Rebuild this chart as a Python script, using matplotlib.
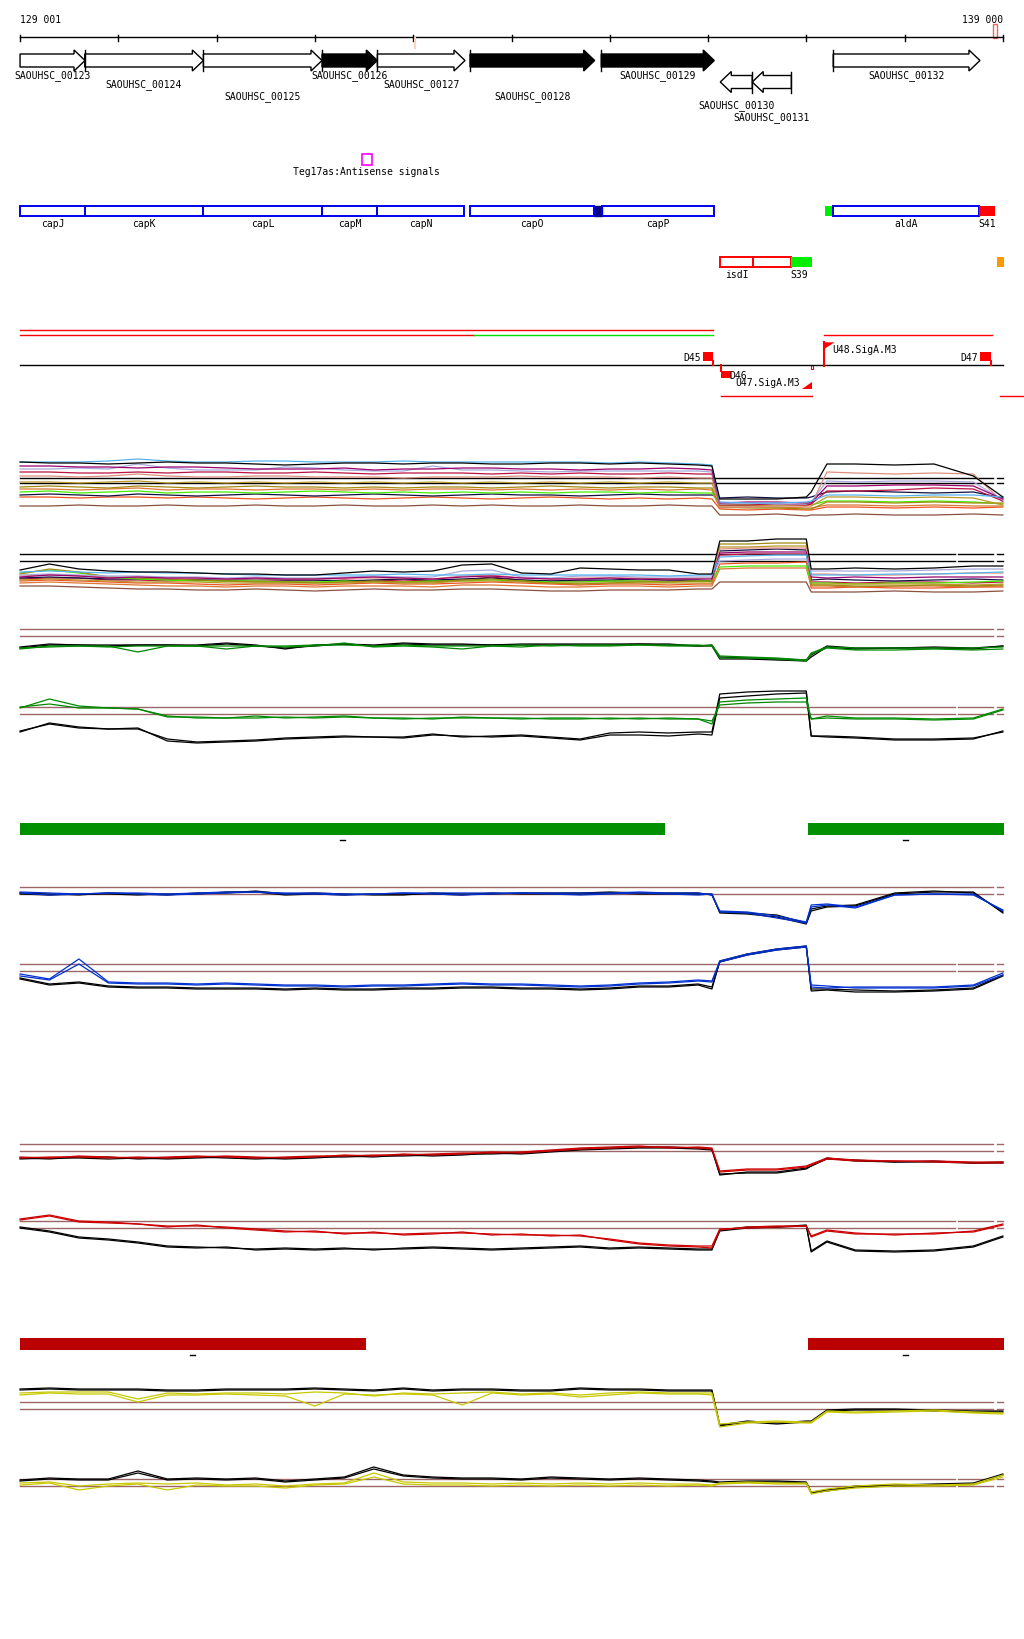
import matplotlib
matplotlib.use('Agg')
import matplotlib.pyplot as plt
from matplotlib.patches import Polygon, Rectangle

# genome window in bp (129 001 .. 139 000 plus margins)
view_start = 128797
view_end = 139215
mono = 'DejaVu Sans Mono'

# genes: name, start, end, strand, filled
gene_names = ['SAOUHSC_00123', 'SAOUHSC_00124', 'SAOUHSC_00125', 'SAOUHSC_00126', 'SAOUHSC_00127',
              'SAOUHSC_00128', 'SAOUHSC_00129', 'SAOUHSC_00130', 'SAOUHSC_00131', 'SAOUHSC_00132']
gene_start = [129001, 129659, 130866, 132073, 132636, 133579, 134914, 136125, 136450, 137274]
gene_end = [129662, 130866, 132073, 132636, 133528, 134847, 136064, 136450, 136848, 138767]
gene_strand = ['+', '+', '+', '+', '+', '+', '+', '-', '-', '+']
gene_filled = [False, False, False, True, False, True, True, False, False, False]
gene_label_row = [76, 85, 97, 76, 85, 97, 76, 106, 118, 76]

# annotated features
cap_names = ['capJ', 'capK', 'capL', 'capM', 'capN', 'capO', 'capP', 'aldA']
cap_start = [129001, 129665, 130866, 132073, 132636, 133579, 134918, 137271]
cap_end = [129665, 130866, 132073, 132636, 133520, 134840, 136064, 138757]

# tiling positions (bp) for the expression profiles
xs = [129001, 129300, 129600, 129900, 130200, 130500, 130800, 131100, 131400, 131700,
      132000, 132300, 132600, 132900, 133200, 133500, 133800, 134100, 134400, 134700,
      135000, 135300, 135600, 135900, 136040, 136120, 136400, 136700, 137000, 137050,
      137210, 137500, 137900, 138300, 138700, 139000]

# condition profiles, + strand
a_black = [57,56,56,55,56, 57,56,56,55,54, 55,56,56,55,56, 56,55,55,56,56, 55,56,55,54,53, 20,20,20,22,27, 55,55,54,55,43,22]
a_sky = [57,57,57,58,60, 58,57,57,58,58, 57,57,57,58,57, 57,57,57,57,57, 56,57,56,55,54, 17,16,16,17,18, 24,24,23,24,24,22]
a_purple = [53,53,52,52,51, 52,52,51,50,50, 50,51,49,50,50, 51,51,50,50,49, 50,50,51,50,49, 16,17,17,16,16, 33,33,34,34,33,20]
a_lav = [50,50,51,50,55, 51,49,49,49,52, 51,49,48,48,53, 49,49,48,47,48, 48,48,48,48,47, 15,16,15,15,17, 38,37,38,38,37,19]
a_crimson = [47,47,46,46,47, 46,47,47,46,46, 47,46,45,46,46, 46,45,46,45,46, 45,45,46,45,45, 14,14,15,14,15, 28,28,29,31,30,18]
a_rosy = [43,43,42,43,45, 43,42,42,43,43, 42,42,42,41,42, 42,42,43,42,42, 42,41,42,41,41, 12,12,13,13,14, 47,46,45,46,45,17]
a_gold = [37,37,36,37,38, 36,37,36,37,36, 37,36,37,36,37, 36,37,36,37,36, 37,36,37,36,36, 13,13,14,13,13, 22,22,21,22,21,14]
a_olive = [32,33,32,31,33, 32,31,32,33,32, 32,31,32,31,32, 32,31,32,33,32, 31,32,32,31,31, 12,11,11,10,10, 17,17,16,17,16,16]
a_orange = [30,30,29,30,31, 29,30,30,29,30, 30,29,30,29,30, 30,29,30,29,30, 29,30,29,30,29, 11,12,12,11,11, 14,14,13,14,13,13]
a_lime = [27,28,26,27,28, 26,27,27,26,27, 28,27,26,27,26, 27,26,27,26,27, 27,26,27,26,26, 14,14,13,14,14, 18,18,17,18,17,15]
a_navy = [24,25,24,23,25, 24,23,24,25,24, 23,24,25,24,23, 24,25,24,24,23, 24,25,24,24,24, 21,22,21,21,22, 27,28,27,26,27,21]
a_ored = [22,22,21,22,22, 21,22,21,20,21, 22,21,20,21,22, 21,20,21,22,21, 20,21,20,21,20, 10,9,10,9,9, 12,12,11,12,11,12]
a_brown = [13,13,14,13,13, 14,13,13,14,13, 13,14,13,13,14, 13,14,13,13,14, 13,13,14,13,13, 4,4,5,3,4, 4,5,4,4,5,4]

# condition profiles, - strand
b_black = [29,35,30,28,27, 27,26,25,25,24, 24,26,28,27,28, 34,35,26,25,31, 30,29,29,25,25, 58,58,60,60, 30,30,31,30,31,33,33]
b_sky = [27,28,27,26,27, 26,26,25,24,24, 24,24,24,25,24, 24,25,24,24,24, 24,24,23,24,24, 42,43,44,44, 24,24,24,25,25,26,27]
b_purple = [22,24,23,21,22, 21,21,20,21,20, 20,21,22,21,20, 22,23,21,20,20, 21,20,20,20,20, 46,47,47,47, 22,21,22,21,22,22,22]
b_lav = [24,25,24,23,23, 22,22,21,22,21, 21,22,23,22,22, 28,29,22,21,23, 23,22,22,22,22, 38,39,40,40, 28,28,28,28,29,30,30]
b_rosy = [23,24,23,22,22, 21,21,20,20,20, 20,21,21,21,20, 23,24,21,20,21, 21,21,20,21,21, 50,51,51,51, 25,25,24,24,25,26,26]
b_olive = [25,30,27,22,21, 20,19,18,17,17, 16,17,18,17,17, 19,20,18,16,15, 16,17,17,18,18, 55,55,56,56, 14,14,13,13,14,13,14]
b_gold = [19,20,19,18,17, 17,17,16,16,16, 16,16,17,16,16, 18,18,17,16,16, 16,16,16,16,16, 52,52,53,53, 15,15,15,15,15,14,15]
b_lime = [26,29,26,22,20, 19,18,18,18,17, 17,18,17,17,18, 18,19,18,17,17, 18,18,17,18,18, 32,33,33,33, 16,16,15,16,16,17,18]
b_navy = [21,22,21,20,20, 20,19,19,20,19, 19,18,19,20,19, 20,21,19,18,19, 19,20,19,19,18, 48,49,50,49, 19,20,19,18,19,20,19]
b_crimson = [20,21,21,19,19, 18,19,18,18,18, 18,19,18,19,18, 19,22,19,18,18, 18,18,18,18,18, 44,45,45,45, 17,17,16,17,17,16,17]
b_orange = [16,17,16,15,14, 13,13,12,13,13, 12,13,13,13,12, 14,14,13,12,12, 13,13,12,13,13, 30,31,31,31, 13,13,12,13,13,12,13]
b_ored = [18,19,18,17,16, 16,15,14,15,15, 14,15,16,15,15, 16,17,16,15,14, 15,15,14,15,15, 35,36,36,37, 11,11,12,11,11,12,12]
b_brown = [13,13,12,11,10, 10,9,9,10,9, 8,9,10,9,9, 10,10,9,8,8, 9,9,9,10,10, 17,17,17,17, 7,7,7,8,7,7,8]

# green condition
g1_k1 = [32,35,34,34,34, 34,34,36,34,30, 34,35,34,36,35, 35,34,35,35,35, 35,35,35,33,34, 22,21,20,19,24, 33,31,31,32,31,33]
g1_k2 = [31,34,34,33,34, 34,33,35,33,31, 33,35,33,35,34, 34,34,34,34,34, 34,35,34,33,33, 20,20,19,18,22, 32,30,31,31,30,33]
g1_c1 = [30,33,33,33,27, 33,33,33,33,32, 33,36,32,33,32, 30,33,34,33,34, 34,34,34,34,33, 21,21,20,18,25, 31,29,29,30,29,30]
g1_c2 = [31,32,33,32,33, 33,33,30,33,33, 34,34,33,34,33, 33,33,32,34,33, 33,34,33,33,34, 23,22,21,19,26, 32,31,31,31,31,32]
g2_k1 = [18,25,21,20,21, 8,6,7,8,10, 11,12,12,11,14, 13,12,13,11,9, 14,14,13,15,14, 51,53,55,56, 13,12,11,9,9,10,18]
g2_k2 = [17,26,22,20,20, 10,7,8,9,11, 12,13,12,12,15, 12,13,14,12,10, 16,17,16,17,17, 55,57,58,58, 13,13,12,10,10,11,17]
g2_c1 = [42,45,41,41,40, 32,32,31,33,31, 32,33,31,31,30, 32,31,31,30,30, 31,30,31,30,28, 44,46,47,47, 30,31,30,30,29,30,39]
g2_c2 = [41,50,43,41,40, 33,31,31,31,32, 31,32,31,30,31, 31,31,30,31,31, 30,31,30,30,25, 47,49,50,51, 30,33,31,31,30,31,40]

# blue condition
bl1_k1 = [46,45,44,46,45, 44,46,46,48,45, 46,45,44,44,46, 45,45,46,46,46, 47,46,46,46,44, 27,26,24,16, 30,33,34,46,48,46,27]
bl1_k2 = [45,44,45,45,44, 45,45,47,47,44, 45,44,45,45,45, 44,46,45,45,45, 46,45,45,45,45, 26,25,22,15, 28,32,33,45,47,47,26]
bl1_c1 = [47,46,45,46,46, 45,46,47,47,46, 46,45,45,46,46, 46,46,46,46,46, 46,47,46,46,44, 28,27,23,17, 34,35,32,44,45,45,28]
bl1_c2 = [46,44,45,46,45, 44,45,46,47,45, 45,44,45,46,45, 44,45,46,45,44, 45,46,45,44,45, 27,26,21,16, 32,34,31,44,45,44,29]
bl2_k1 = [30,24,26,22,21, 21,20,20,20,19, 20,19,19,20,20, 21,21,20,20,19, 20,22,22,24,20, 48,55,60,63, 18,19,17,17,18,20,33]
bl2_k2 = [31,25,27,23,22, 22,21,21,21,20, 21,20,20,21,21, 22,22,21,21,20, 21,23,23,25,22, 47,54,59,62, 20,20,19,18,19,21,34]
bl2_c1 = [35,30,50,27,26, 26,25,26,25,24, 24,23,24,24,25, 26,25,25,24,23, 24,26,27,29,28, 48,55,60,63, 22,21,22,22,22,24,36]
bl2_c2 = [33,29,45,26,25, 25,24,25,24,23, 23,22,23,23,24, 25,24,24,23,22, 23,25,26,28,27, 47,54,59,62, 24,23,21,21,21,23,34]

# red condition
r1_k1 = [41,40,42,42,40, 41,42,41,40,41, 42,42,43,43,44, 45,45,46,48,50, 51,52,52,51,50, 24,27,27,31, 33,40,39,37,38,36,36]
r1_k2 = [40,41,41,40,41, 40,41,42,41,40, 41,43,42,44,43, 44,46,45,47,49, 50,51,51,50,49, 25,26,26,30, 33,41,38,37,37,36,37]
r1_c1 = [42,41,43,42,41, 42,43,42,41,42, 43,43,44,44,45, 46,46,47,49,51, 52,53,51,52,51, 28,30,30,33, 35,41,39,38,38,37,37]
r1_c2 = [41,42,42,41,42, 41,42,43,42,41, 42,44,43,45,44, 45,47,46,48,50, 51,52,52,51,50, 27,29,29,32, 34,40,38,38,37,36,36]
r2_k1 = [52,48,42,40,37, 33,32,31,30,31, 30,31,29,31,32, 31,30,31,32,33, 31,32,31,30,30, 48,51,52,53, 28,38,29,28,29,33,43]
r2_k2 = [51,47,41,39,36, 32,31,32,29,30, 29,30,30,30,31, 30,29,30,31,32, 30,31,30,29,29, 49,52,52,54, 27,37,28,27,28,32,42]
r2_c1 = [60,64,58,57,55, 53,53,52,50,48, 47,46,46,45,46, 46,45,44,44,43, 40,36,34,33,33, 50,51,52,53, 42,48,45,45,45,48,55]
r2_c2 = [59,63,57,56,55, 52,54,51,49,47, 48,45,47,44,45, 47,44,45,43,44, 39,35,33,32,31, 49,52,53,53, 43,49,46,44,46,47,54]

# yellow condition
y1_k1 = [50,51,50,50,50, 49,49,50,50,50, 51,50,49,51,49, 50,50,49,49,51, 50,50,49,49,49, 14,18,16,18, 18,29,30,30,29,28,28]
y1_k2 = [49,50,49,49,49, 48,48,49,49,49, 50,49,48,50,48, 49,49,48,48,50, 49,49,48,48,48, 13,17,15,17, 17,28,29,29,28,27,27]
y1_c1 = [46,47,47,47,40, 46,45,46,46,45, 47,46,43,46,45, 46,47,45,46,44, 46,47,46,46,46, 15,17,18,17, 17,28,27,28,29,27,26]
y1_c2 = [44,46,45,45,37, 44,44,45,44,43, 33,45,44,45,44, 34,46,44,45,42, 44,46,45,45,44, 12,16,17,16, 16,27,26,27,28,26,25]
y2_k1 = [39,41,40,40,48, 40,41,40,41,38, 40,42,52,44,42, 41,41,40,42,41, 40,41,40,39,38, 37,38,38,37, 27,29,33,34,35,36,45]
y2_k2 = [38,40,39,39,46, 39,40,39,40,37, 39,41,50,43,41, 40,40,39,41,40, 39,40,39,38,37, 36,37,37,36, 26,28,32,33,34,35,44]
y2_c1 = [36,37,33,35,36, 35,36,34,35,33, 35,36,46,37,36, 36,35,36,35,36, 35,36,35,35,34, 36,37,36,36, 27,30,33,35,34,35,44]
y2_c2 = [34,36,29,33,35, 29,34,33,33,31, 34,35,42,35,34, 34,33,34,33,34, 33,34,33,34,33, 35,36,35,35, 25,28,31,33,33,34,42]

fig = plt.figure(figsize=(10.24, 16.4), dpi=100)
ax = fig.add_axes([0, 0, 1, 1])
ax.set_xlim(view_start, view_end)
ax.set_ylim(1640, 0)
ax.axis('off')


def label(x, y, s, ha='center'):
    ax.text(x, y, s, ha=ha, va='center', fontsize=7, family=mono, color='black')


# ruler
ax.plot([129001, 139001], [38.3, 38.3], color='black', lw=1)
for t in range(129001, 139002, 1000):
    ax.plot([t, t], [35.5, 41.5], color='black', lw=1)
label(129001, 20, '129 001', ha='left')
label(139001, 20, '139 000', ha='right')
ax.add_patch(Rectangle((138900, 25), 45, 14, fill=False, ec='#ee6655', lw=1))
ax.plot([133019, 133019], [39, 49], color='#ffcfc0', lw=1.5)

# gene arrows
head = 112
for i in range(len(gene_names)):
    s, e = gene_start[i], gene_end[i]
    if gene_strand[i] == '+':
        yc, bh, hh = 61.5, 6.5, 10.5
        pts = [(s, yc - bh), (e - head, yc - bh), (e - head, yc - hh), (e, yc),
               (e - head, yc + hh), (e - head, yc + bh), (s, yc + bh)]
        bar = s
    else:
        yc, bh, hh = 83, 6.5, 10.5
        pts = [(e, yc - bh), (s + head, yc - bh), (s + head, yc - hh), (s, yc),
               (s + head, yc + hh), (s + head, yc + bh), (e, yc + bh)]
        bar = e
    fc = 'black' if gene_filled[i] else 'white'
    ax.add_patch(Polygon(pts, closed=True, fc=fc, ec='black', lw=1))
    if i > 0:
        ax.plot([bar, bar], [yc - hh, yc + hh], color='black', lw=1)
    label((s + e) / 2, gene_label_row[i], gene_names[i])

# antisense signal
ax.add_patch(Rectangle((132483, 155.3), 102, 11, fill=False, ec='#ff00ff', lw=1.2))
label(132526, 172.3, 'Teg17as:Antisense signals')

# annotation boxes
ax.add_patch(Rectangle((137190, 207.3), 81, 10, fc='#00ee00', ec='none'))
ax.add_patch(Rectangle((134840, 207.3), 78, 10, fc='#000088', ec='#000088', lw=1))
for i in range(len(cap_names)):
    s, e = cap_start[i], cap_end[i]
    ax.add_patch(Rectangle((s, 207.3), e - s, 10, fill=False, ec='#0000ee', lw=1.4))
    label((s + e) / 2, 224.3, cap_names[i])
ax.add_patch(Rectangle((138757, 207.3), 160, 10, fc='#ff0000', ec='none'))
label(138837, 224.3, 'S41')

ax.add_patch(Rectangle((136125, 258), 330, 10.3, fill=False, ec='#ff0000', lw=1.4))
ax.add_patch(Rectangle((136455, 258), 389, 10.3, fill=False, ec='#ff0000', lw=1.4))
ax.add_patch(Rectangle((136844, 258), 210, 10.3, fc='#00ee00', ec='none'))
ax.add_patch(Rectangle((138940, 258), 71, 10.3, fc='#ff9900', ec='none'))
label(136290, 275.3, 'isdI')
label(136930, 275.3, 'S39')

# transcription units and regulatory sites
ax.plot([129001, 136054], [331.3, 331.3], color='#ff0000', lw=1)
ax.plot([129001, 133620], [336.3, 336.3], color='#ff0000', lw=1)
ax.plot([133620, 136054], [336.3, 336.3], color='#00dd00', lw=1)
ax.plot([137180, 138889], [336, 336], color='#ff0000', lw=1)
ax.plot([136132, 137055], [397.3, 397.3], color='#ff0000', lw=1)
ax.plot([138970, 139215], [397.3, 397.3], color='#ff0000', lw=1)
ax.plot([129001, 139006], [366.3, 366.3], color='black', lw=1)

for s, e in [(135952, 136054), (138767, 138876)]:
    ax.add_patch(Rectangle((s, 353), e - s, 8.7, fc='#ff0000', ec='none'))
    ax.plot([e, e], [361.7, 366.3], color='#ff0000', lw=1.5)
ax.plot([136137, 136137], [366.3, 372], color='#ff0000', lw=1.5)
ax.add_patch(Rectangle((136137, 371.7), 102, 7.6, fc='#ff0000', ec='none'))
ax.add_patch(Polygon([(137055, 383.3), (137055, 390), (136959, 390)], closed=True, fc='#ff0000', ec='none'))
ax.add_patch(Rectangle((137050, 366), 20, 4, fill=False, ec='#ff0000', lw=0.8))
ax.plot([137183, 137183], [343.3, 366.7], color='#ff0000', lw=1.5)
ax.add_patch(Polygon([(137183, 343.3), (137287, 343.3), (137183, 350)], closed=True, fc='#ff0000', ec='none'))
label(135932, 358.3, 'D45', ha='right')
label(136213, 375.6, 'D46', ha='left')
label(136605, 383, 'U47.SigA.M3')
label(137267, 350, 'U48.SigA.M3', ha='left')
label(138743, 358.3, 'D47', ha='right')

# condition bars
for s, e in [(129001, 135559), (137017, 139011)]:
    ax.add_patch(Rectangle((s, 824), e - s, 11.7, fc='#009000', ec='none'))
    ax.plot([(s + e) / 2 - 25, (s + e) / 2 + 25], [841.3, 841.3], color='black', lw=1)
for s, e in [(129001, 132518), (137014, 139011)]:
    ax.add_patch(Rectangle((s, 1339), e - s, 11.7, fc='#bb0000', ec='none'))
    ax.plot([(s + e) / 2 - 25, (s + e) / 2 + 25], [1356, 1356], color='black', lw=1)

segs1 = [(129001, 138899), (138940, 139006)]
segs2 = [(129001, 138512), (138542, 138899), (138940, 139006)]


def panel(top, bottom, levels, segs, refcolor):
    a = fig.add_axes([0, (1640 - bottom) / 1640, 1, (bottom - top) / 1640])
    a.set_xlim(view_start, view_end)
    a.set_ylim(0, bottom - top)
    a.axis('off')
    for lv in levels:
        for s, e in segs:
            a.plot([s, e], [lv, lv], color=refcolor, lw=1)
    return a


pa = panel(455, 520, [41.3, 35.7], segs1, 'black')
for vals, c in [(a_brown, '#8a5040'), (a_ored, '#ee5522'), (a_navy, '#101040'), (a_lime, '#44ee00'),
                (a_orange, '#dd7733'), (a_olive, '#a08a10'), (a_gold, '#bb9a2a'), (a_rosy, '#dd9080'),
                (a_crimson, '#bb1144'), (a_lav, '#a8a8dd'), (a_purple, '#99006e'), (a_sky, '#55b4f0'),
                (a_black, 'black')]:
    pa.plot(xs, vals, color=c, lw=0.9)

pb = panel(530, 600, [44.7, 37.7], segs2, 'black')
for vals, c in [(b_brown, '#8a5040'), (b_ored, '#ee5522'), (b_orange, '#dd7733'), (b_crimson, '#bb1144'),
                (b_navy, '#101040'), (b_lime, '#44ee00'), (b_gold, '#bb9a2a'), (b_olive, '#a08a10'),
                (b_rosy, '#dd9080'), (b_lav, '#a8a8dd'), (b_purple, '#99006e'), (b_sky, '#55b4f0'),
                (b_black, 'black')]:
    pb.plot(xs, vals, color=c, lw=0.9)

ref = '#9c6666'
for top, bottom, levels, segs, lines, col in [
        (620, 680, [49.7, 42.7], segs1, [g1_k1, g1_k2, g1_c1, g1_c2], '#008800'),
        (680, 750, [41.7, 34.7], segs2, [g2_k1, g2_k2, g2_c1, g2_c2], '#008800'),
        (870, 940, [51.7, 44.7], segs1, [bl1_k1, bl1_k2, bl1_c1, bl1_c2], '#0030d0'),
        (930, 1010, [44.7, 37.7], segs2, [bl2_k1, bl2_k2, bl2_c1, bl2_c2], '#0030d0'),
        (1120, 1200, [54.7, 47.7], segs1, [r1_k1, r1_k2, r1_c1, r1_c2], '#cc0000'),
        (1200, 1280, [57.7, 50.7], segs2, [r2_k1, r2_k2, r2_c1, r2_c2], '#cc0000'),
        (1360, 1440, [36.7, 29.7], segs1, [y1_k1, y1_k2, y1_c1, y1_c2], '#c8c800'),
        (1440, 1520, [39.7, 32.7], segs2, [y2_k1, y2_k2, y2_c1, y2_c2], '#c8c800')]:
    p = panel(top, bottom, levels, segs, ref)
    p.plot(xs, lines[0], color='black', lw=0.9)
    p.plot(xs, lines[1], color='black', lw=0.9)
    p.plot(xs, lines[2], color=col, lw=0.9)
    p.plot(xs, lines[3], color=col, lw=0.9)

fig.savefig('out.png', dpi=100)
